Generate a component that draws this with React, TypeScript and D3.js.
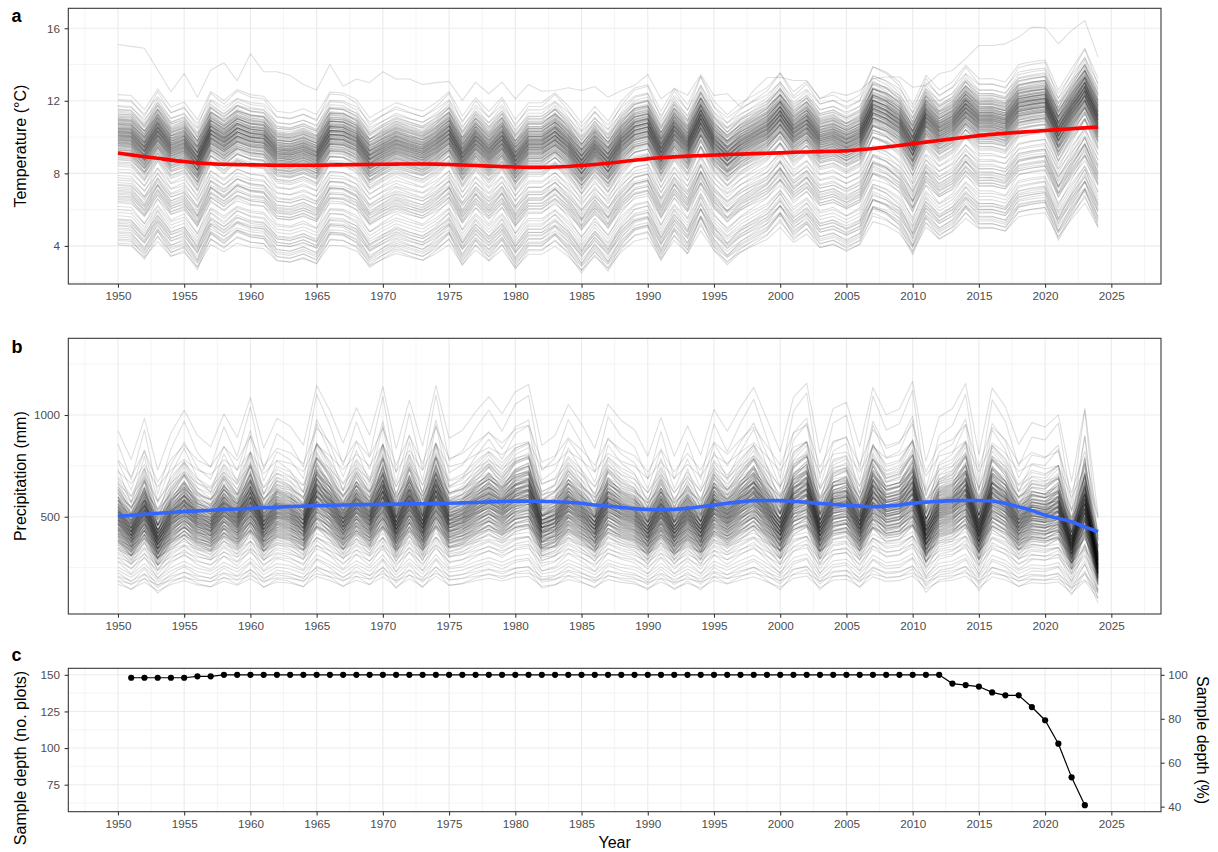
import React, { useEffect, useRef } from 'react';
import * as d3 from 'd3';

// years of the climate series
const years = d3.range(1950, 2025);

// panel a: loess trend (red) and the plot-mean temperature per year
const tempTrend = [
  9.12, 9.02, 8.92, 8.83, 8.73,
  8.65, 8.58, 8.53, 8.5, 8.48,
  8.47, 8.46, 8.45, 8.45, 8.45,
  8.45, 8.46, 8.47, 8.48, 8.49,
  8.5, 8.51, 8.52, 8.52, 8.51,
  8.49, 8.46, 8.43, 8.4, 8.37,
  8.35, 8.34, 8.34, 8.35, 8.38,
  8.43, 8.49, 8.56, 8.64, 8.72,
  8.8, 8.86, 8.91, 8.95, 8.98,
  9.01, 9.04, 9.06, 9.09, 9.11,
  9.13, 9.16, 9.18, 9.2, 9.22,
  9.25, 9.3, 9.37, 9.45, 9.54,
  9.63, 9.72, 9.81, 9.9, 9.99,
  10.08, 10.15, 10.21, 10.26, 10.31,
  10.36, 10.41, 10.46, 10.51, 10.55,
];
const tempMean = [
  9.04, 8.99, 8.21, 9.36, 8.35,
  8.63, 7.66, 9.22, 8.72, 9.32,
  9.04, 8.95, 8.12, 8.03, 8.26,
  7.94, 9.18, 9.13, 8.77, 7.76,
  8.21, 8.6, 8.35, 8.13, 8.59,
  9.21, 7.86, 8.87, 8.11, 8.9,
  7.67, 8.59, 8.59, 9.13, 8.42,
  7.48, 8.4, 7.58, 8.68, 9.41,
  9.59, 8.13, 9.41, 8.49, 10.06,
  8.68, 7.94, 8.57, 9.0, 9.42,
  10.24, 9.2, 9.77, 8.83, 9.02,
  8.64, 9.01, 10.58, 10.29, 9.74,
  8.5, 10.11, 9.3, 9.74, 10.66,
  9.92, 9.93, 9.74, 10.7, 10.85,
  10.95, 9.3, 10.48, 11.58, 9.93,
];
// the warmest plot, which does not follow the others
const tempWarmPlot = [
  15.1, 15.0, 14.9, 13.7, 12.5,
  13.5, 12.2, 13.7, 14.1, 13.1,
  14.6, 13.6, 13.6, 13.4, 12.9,
  12.6, 14.0, 12.8, 13.2, 13.0,
  13.6, 13.2, 13.2, 12.9, 13.0,
  13.07, 12.02, 13.03, 12.39, 13.03,
  12.11, 12.9, 12.53, 12.57, 12.72,
  12.57, 12.79, 12.2, 12.57, 12.85,
  13.45, 12.11, 12.66, 12.3, 13.45,
  12.3, 12.39, 11.66, 12.57, 13.27,
  13.3, 13.12, 13.12, 12.11, 12.48,
  12.3, 12.57, 13.22, 13.31, 13.31,
  12.75, 12.85, 13.49, 13.67, 14.32,
  15.05, 15.05, 15.14, 15.51, 16.06,
  16.04, 15.14, 15.88, 16.43, 14.41,
];
// offset of each other plot from the mean (°C)
const tempPlotOffset = [
  3.3, 3.05, 2.95, 2.7, 2.62, 2.5, 2.45, 2.38,
  2.3, 2.25, 2.22, 2.15, 2.1, 2.08, 2.02, 1.97, 1.95, 1.92, 1.9,
  1.86, 1.84, 1.8, 1.75, 1.74, 1.7, 1.68, 1.66, 1.63, 1.62, 1.58,
  1.55, 1.52, 1.5, 1.47, 1.45, 1.44, 1.42, 1.4, 1.38, 1.35, 1.33,
  1.3, 1.28, 1.27, 1.25, 1.24, 1.22, 1.2, 1.18, 1.17, 1.15, 1.12,
  1.1, 1.08, 1.06, 1.05, 1.03, 1.02, 1.0, 0.98, 0.97, 0.95, 0.92,
  0.9, 0.88, 0.86, 0.84, 0.82, 0.8, 0.79, 0.77, 0.75, 0.72, 0.7,
  0.68, 0.65, 0.63, 0.62, 0.6, 0.57, 0.55, 0.52, 0.5, 0.48, 0.46, 0.43,
  0.4, 0.36, 0.33, 0.3, 0.26, 0.24, 0.22, 0.18, 0.14, 0.1, 0.05,
  0.02, 0.0, -0.05, -0.1, -0.15, -0.2, -0.26, -0.32, -0.4, -0.48, -0.56,
  -0.65, -0.8, -0.98, -1.15, -1.3, -1.4,
  -1.55, -1.65, -1.72, -1.8, -1.9, -1.98, -2.05, -2.12, -2.2,
  -2.28, -2.35, -2.42, -2.5, -2.58,
  -2.68, -2.85, -3.05, -3.2, -3.38,
  -3.55, -3.62, -3.7, -3.8, -3.88, -3.95, -4.05, -4.15, -4.25, -4.35,
  -4.45, -4.55, -4.65, -4.75, -4.88, -5.0,
];
// how strongly a plot follows the yearly swings
const tempSwing = [1.0, 1.2, 0.85, 1.1, 0.8, 1.15, 0.9, 1.05, 0.8, 1.2, 0.9, 1.0];

// panel b: loess trend (blue) and mean precipitation per year
const precipTrend = [
  502, 507, 512, 517, 521,
  525, 529, 532, 535, 538,
  541, 544, 547, 550, 552,
  554, 556, 558, 559, 560,
  561, 562, 563, 564, 565,
  566, 568, 570, 573, 575,
  577, 577, 576, 574, 571,
  566, 558, 552, 546, 540,
  536, 534, 536, 541, 549,
  557, 566, 573, 579, 580,
  579, 576, 571, 565, 560,
  557, 552, 549, 552, 558,
  566, 572, 576, 579, 580,
  580, 577, 565, 549, 530,
  508, 492, 475, 450, 426,
];
const precipMean = [
  527, 447, 562, 417, 521,
  585, 514, 482, 575, 508,
  621, 479, 562, 540, 487,
  654, 584, 493, 592, 515,
  651, 477, 613, 484, 655,
  506, 528, 580, 623, 575,
  637, 657, 486, 514, 601,
  546, 478, 602, 556, 530,
  456, 564, 456, 541, 459,
  587, 526, 593, 649, 560,
  469, 621, 661, 465, 590,
  607, 482, 649, 572, 588,
  666, 442, 566, 589, 660,
  460, 647, 595, 489, 550,
  538, 572, 385, 590, 290,
];
// each plot's precipitation relative to the mean
const precipPlotFactor = [
  1.75, 1.6, 1.5, 1.45, 1.4, 1.36,
  1.33, 1.3, 1.28, 1.26, 1.24, 1.22, 1.21, 1.2, 1.19, 1.18, 1.17, 1.16, 1.15, 1.14,
  1.13, 1.125, 1.12, 1.115, 1.11, 1.105, 1.1, 1.095, 1.09, 1.085,
  1.08, 1.075, 1.07, 1.065, 1.06, 1.055, 1.05, 1.045, 1.04, 1.035,
  1.03, 1.027, 1.024, 1.021, 1.018, 1.015, 1.012, 1.009, 1.006, 1.003,
  1.0, 0.997, 0.994, 0.991, 0.988, 0.985, 0.982, 0.979, 0.976, 0.973,
  0.97, 0.967, 0.964, 0.961, 0.958, 0.955, 0.952, 0.949, 0.946, 0.943,
  0.94, 0.937, 0.934, 0.931, 0.928, 0.925, 0.922, 0.919, 0.916, 0.913,
  0.91, 0.907, 0.904, 0.901, 0.898, 0.895, 0.892, 0.889, 0.886, 0.883,
  0.88, 0.876, 0.872, 0.868, 0.864, 0.86, 0.856, 0.852, 0.848, 0.844,
  0.84, 0.836, 0.832, 0.828, 0.824, 0.82, 0.816, 0.812, 0.808, 0.804,
  0.8, 0.795, 0.79, 0.785, 0.78, 0.775, 0.77, 0.765, 0.76, 0.755,
  0.75, 0.745, 0.74, 0.735, 0.73, 0.725, 0.72, 0.715, 0.71, 0.705,
  0.69, 0.68, 0.67, 0.66, 0.65, 0.64, 0.62, 0.6, 0.58, 0.56, 0.54, 0.52,
  0.48, 0.45, 0.42, 0.4, 0.38, 0.36, 0.34, 0.32,
];
const precipSwing = [1.0, 1.35, 0.7, 1.2, 0.55, 1.5, 0.9, 1.1, 0.65, 1.3, 0.8, 1.4, 1.0];

// panel c: number of plots with tree-ring data
const depthYears = d3.range(1951, 2024);
const sampleDepth = [
  148, 148, 148, 148, 148, 149, 149,
  150, 150, 150, 150, 150, 150, 150, 150, 150, 150,
  150, 150, 150, 150, 150, 150, 150, 150, 150, 150,
  150, 150, 150, 150, 150, 150, 150, 150, 150, 150,
  150, 150, 150, 150, 150, 150, 150, 150, 150, 150,
  150, 150, 150, 150, 150, 150, 150, 150, 150, 150,
  150, 150, 150, 150, 150,
  144, 143, 142, 138, 136, 136, 128, 119, 103, 80, 61,
];
const totalPlots = 150;

const xTicks = d3.range(1950, 2030, 5);
const tempTicks = [4, 8, 12, 16];
const precipTicks = [500, 1000];
const depthTicks = [75, 100, 125, 150];
const percentTicks = [40, 60, 80, 100];

const FONT = 'Liberation Sans, Arial, Helvetica, sans-serif';

const App = () => {
  const svgRef = useRef<SVGSVGElement>(null);

  useEffect(() => {
    const svg = d3.select(svgRef.current);
    svg.selectAll('*').remove();

    const left = 68.3;
    const right = 1161;
    const x = d3.scaleLinear().domain([1946.25, 2028.75]).range([left, right]);

    const panels = {
      a: { top: 8.3, bottom: 284 },
      b: { top: 338.3, bottom: 614 },
      c: { top: 668.3, bottom: 811.7 },
    };

    const yTemp = d3.scaleLinear().domain([1.9, 17.1]).range([panels.a.bottom, panels.a.top]);
    const yPrec = d3.scaleLinear().domain([22, 1377]).range([panels.b.bottom, panels.b.top]);
    const yDepth = d3.scaleLinear().domain([56.55, 154.45]).range([panels.c.bottom, panels.c.top]);
    const yPct = d3.scaleLinear()
      .domain([56.55 / totalPlots * 100, 154.45 / totalPlots * 100])
      .range([panels.c.bottom, panels.c.top]);

    // grid lines for one panel
    const grid = (top, bottom, y, majors, minors) => {
      const g = svg.append('g');
      const xMinor = d3.range(1947.5, 2029, 5);
      g.selectAll(null).data(xMinor).enter().append('line')
        .attr('x1', d => x(d)).attr('x2', d => x(d))
        .attr('y1', top).attr('y2', bottom)
        .attr('stroke', '#ebebeb').attr('stroke-width', 0.55);
      g.selectAll(null).data(minors).enter().append('line')
        .attr('x1', left).attr('x2', right)
        .attr('y1', d => y(d)).attr('y2', d => y(d))
        .attr('stroke', '#ebebeb').attr('stroke-width', 0.55);
      g.selectAll(null).data(xTicks).enter().append('line')
        .attr('x1', d => x(d)).attr('x2', d => x(d))
        .attr('y1', top).attr('y2', bottom)
        .attr('stroke', '#ebebeb').attr('stroke-width', 1.1);
      g.selectAll(null).data(majors).enter().append('line')
        .attr('x1', left).attr('x2', right)
        .attr('y1', d => y(d)).attr('y2', d => y(d))
        .attr('stroke', '#ebebeb').attr('stroke-width', 1.1);
    };

    const styleAxis = (ax) => {
      ax.select('.domain').remove();
      ax.selectAll('line').attr('stroke', '#333333').attr('stroke-width', 1.07);
      ax.selectAll('text')
        .attr('fill', '#4d4d4d')
        .style('font-size', '11.7px')
        .style('font-family', FONT);
    };

    // frame, ticks and labels for one panel
    const frame = (top, bottom, y, ticks) => {
      svg.append('rect')
        .attr('x', left).attr('y', top)
        .attr('width', right - left).attr('height', bottom - top)
        .attr('fill', 'none').attr('stroke', '#333333').attr('stroke-width', 1.07);
      const ax = svg.append('g')
        .attr('transform', `translate(0,${bottom})`)
        .call(d3.axisBottom(x).tickValues(xTicks).tickSize(3.7).tickPadding(4).tickFormat(d3.format('d')));
      styleAxis(ax);
      const ay = svg.append('g')
        .attr('transform', `translate(${left},0)`)
        .call(d3.axisLeft(y).tickValues(ticks).tickSize(3.7).tickPadding(4.5).tickFormat(d3.format('d')));
      styleAxis(ay);
    };

    const yTitle = (text, cy) => {
      svg.append('text')
        .attr('transform', `translate(26,${cy}) rotate(-90)`)
        .attr('text-anchor', 'middle')
        .style('font-family', FONT).style('font-size', '16px')
        .attr('fill', '#000')
        .text(text);
    };

    const tag = (text, baseline) => {
      svg.append('text')
        .attr('x', 11.5).attr('y', baseline)
        .style('font-family', FONT).style('font-size', '18px').style('font-weight', 'bold')
        .attr('fill', '#000')
        .text(text);
    };

    // ---- panel a
    grid(panels.a.top, panels.a.bottom, yTemp, tempTicks, [2, 6, 10, 14]);
    const tempSeries = tempPlotOffset.map((off, p) =>
      years.map((yr, i) => ({
        year: yr,
        value: tempTrend[i] + tempSwing[p % tempSwing.length] * (tempMean[i] - tempTrend[i]) + off,
      })));
    tempSeries.push(years.map((yr, i) => ({ year: yr, value: tempWarmPlot[i] })));

    const tempLine = d3.line<any>().x(d => x(d.year)).y(d => yTemp(d.value));
    svg.append('g').selectAll(null).data(tempSeries).enter().append('path')
      .attr('d', tempLine)
      .attr('fill', 'none').attr('stroke', '#000').attr('stroke-opacity', 0.13)
      .attr('stroke-width', 1.1).attr('stroke-linejoin', 'round');

    svg.append('path')
      .datum(years.map((yr, i) => ({ year: yr, value: tempTrend[i] })))
      .attr('d', tempLine.curve(d3.curveMonotoneX))
      .attr('fill', 'none').attr('stroke', '#ff0000').attr('stroke-width', 3.6);

    frame(panels.a.top, panels.a.bottom, yTemp, tempTicks);
    yTitle('Temperature (°C)', (panels.a.top + panels.a.bottom) / 2);
    tag('a', 21.7);

    // ---- panel b
    grid(panels.b.top, panels.b.bottom, yPrec, precipTicks, [250, 750, 1250]);
    const precipSeries = precipPlotFactor.map((f, p) =>
      years.map((yr, i) => ({
        year: yr,
        value: f * (precipTrend[i] + precipSwing[p % precipSwing.length] * (precipMean[i] - precipTrend[i])),
      })));
    const precLine = d3.line<any>().x(d => x(d.year)).y(d => yPrec(d.value));
    svg.append('g').selectAll(null).data(precipSeries).enter().append('path')
      .attr('d', precLine)
      .attr('fill', 'none').attr('stroke', '#000').attr('stroke-opacity', 0.13)
      .attr('stroke-width', 1.1).attr('stroke-linejoin', 'round');

    svg.append('path')
      .datum(years.map((yr, i) => ({ year: yr, value: precipTrend[i] })))
      .attr('d', precLine.curve(d3.curveMonotoneX))
      .attr('fill', 'none').attr('stroke', '#3366ff').attr('stroke-width', 3.6);

    frame(panels.b.top, panels.b.bottom, yPrec, precipTicks);
    yTitle('Precipitation (mm)', (panels.b.top + panels.b.bottom) / 2);
    tag('b', 352.6);

    // ---- panel c
    grid(panels.c.top, panels.c.bottom, yDepth, depthTicks, [62.5, 87.5, 112.5, 137.5]);
    const depth = depthYears.map((yr, i) => ({ year: yr, value: sampleDepth[i] }));
    svg.append('path')
      .datum(depth)
      .attr('d', d3.line<any>().x(d => x(d.year)).y(d => yDepth(d.value)))
      .attr('fill', 'none').attr('stroke', '#000').attr('stroke-width', 1.2);
    svg.append('g').selectAll(null).data(depth).enter().append('circle')
      .attr('cx', d => x(d.year)).attr('cy', d => yDepth(d.value))
      .attr('r', 3.1).attr('fill', '#000');

    frame(panels.c.top, panels.c.bottom, yDepth, depthTicks);
    const ar = svg.append('g')
      .attr('transform', `translate(${right},0)`)
      .call(d3.axisRight(yPct).tickValues(percentTicks).tickSize(3.7).tickPadding(3.5));
    styleAxis(ar);

    yTitle('Sample depth (no. plots)', 758);
    svg.append('text')
      .attr('transform', `translate(1197,${(panels.c.top + panels.c.bottom) / 2}) rotate(90)`)
      .attr('text-anchor', 'middle')
      .style('font-family', FONT).style('font-size', '16px')
      .attr('fill', '#000')
      .text('Sample depth (%)');
    svg.append('text')
      .attr('x', (left + right) / 2).attr('y', 848)
      .attr('text-anchor', 'middle')
      .style('font-family', FONT).style('font-size', '16px')
      .attr('fill', '#000')
      .text('Year');
    tag('c', 660.6);
  }, []);

  return (
    <svg
      ref={svgRef}
      width={1218}
      height={852}
      style={{ position: 'absolute', left: 0, top: 0, background: '#ffffff' }}
    />
  );
};

export default App;
